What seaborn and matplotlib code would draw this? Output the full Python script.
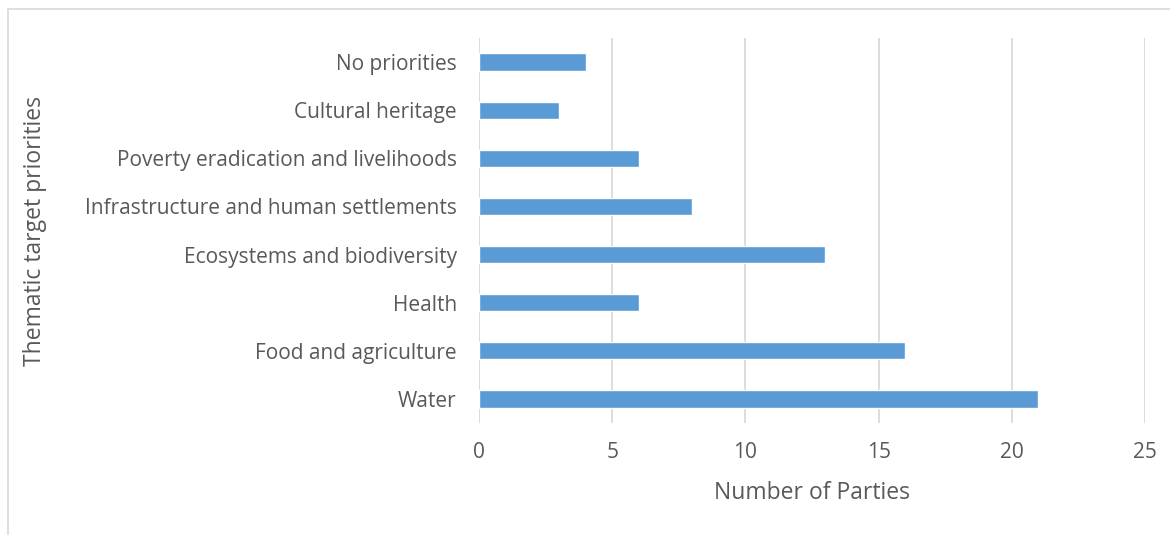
import matplotlib
matplotlib.use("Agg")
import matplotlib.pyplot as plt
import seaborn as sns
import pandas as pd
from matplotlib.patches import Rectangle

categories = ["No priorities", "Cultural heritage", "Poverty eradication and livelihoods",
              "Infrastructure and human settlements", "Ecosystems and biodiversity",
              "Health", "Food and agriculture", "Water"]
values = [4, 3, 6, 8, 13, 6, 16, 21]
x_ticks = [0, 5, 10, 15, 20, 25]

sns.set_theme(style="white")
plt.rcParams['font.family'] = ['Open Sans', 'DejaVu Sans']

df = pd.DataFrame({"cat": categories, "val": values})

fig = plt.figure(figsize=(11.7, 5.35), dpi=100)
ax = fig.add_axes([479/1170, 1 - 423/535, (1145 - 479)/1170, (423 - 38)/535])

sns.barplot(data=df, y="cat", x="val", orient="h", color="#5B9BD5", width=0.36,
            saturation=1, ax=ax, order=categories)

ax.set_xlim(0, 25)
ax.set_ylim(len(categories) - 0.5, -0.5)
ax.set_xticks(x_ticks)
ax.set_xticklabels([str(t) for t in x_ticks])
ax.xaxis.grid(True, color="#D9D9D9", linewidth=1.3)
ax.set_axisbelow(True)
for s in ax.spines.values():
    s.set_visible(False)
ax.tick_params(axis="both", length=0, labelsize=15, labelcolor="#595959")
ax.tick_params(axis="x", pad=14)
ax.tick_params(axis="y", pad=16)
ax.set_xlabel("Number of Parties", fontsize=16.5, color="#595959")
ax.set_ylabel("Thematic target priorities", fontsize=16.5, color="#595959")
ax.xaxis.set_label_coords(0.5, -0.182)
ax.yaxis.set_label_coords(-0.667, 0.5)
ax.xaxis.label.set_va("center")
ax.yaxis.label.set_va("center")

fig.patches.append(Rectangle((8/1170, -0.1), 1.2, 1 - 9/535 + 0.1, transform=fig.transFigure,
                             fill=False, edgecolor="#D9D9D9", linewidth=1.2))

fig.savefig("out.png", dpi=100)
